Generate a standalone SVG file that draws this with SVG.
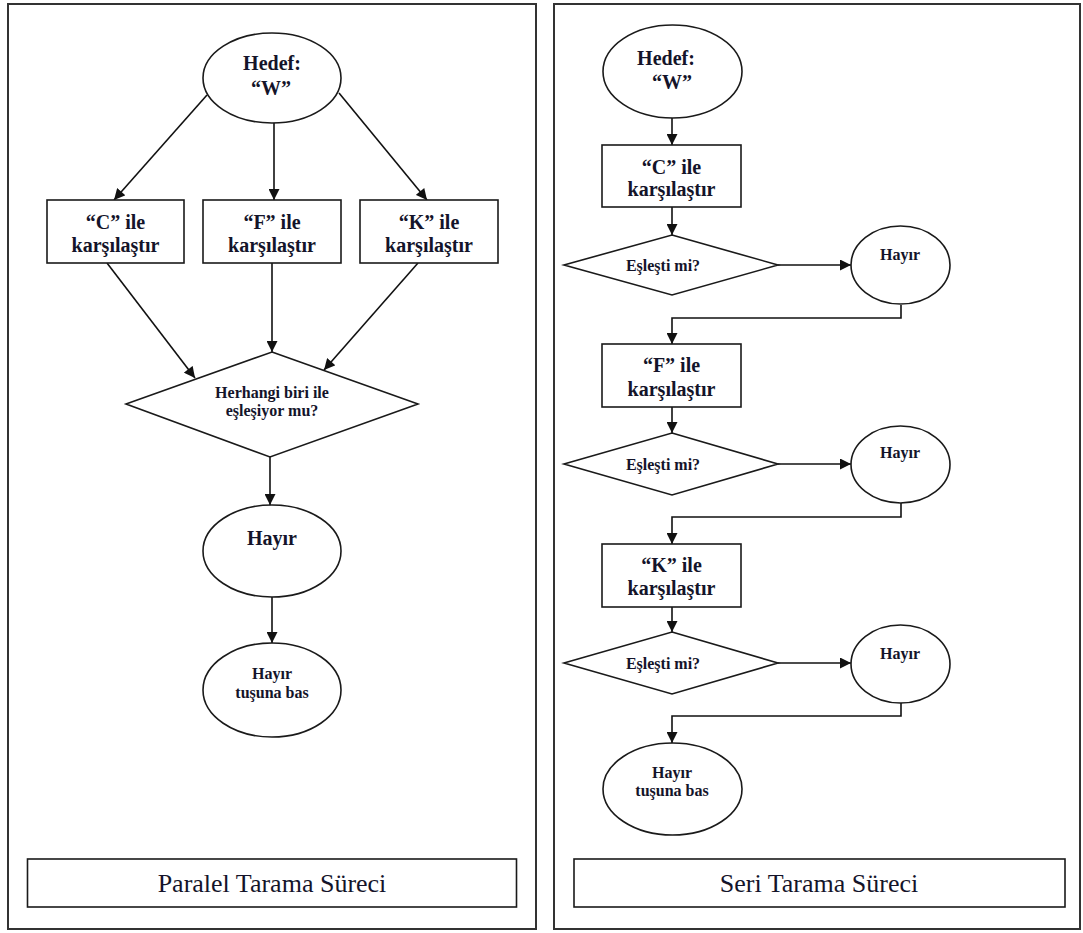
<svg xmlns="http://www.w3.org/2000/svg" width="1083" height="933" viewBox="0 0 1083 933">
<style>
.panel{fill:#fff;stroke:#333;stroke-width:2}
.shape{fill:#fff;stroke:#1a1a1a;stroke-width:1.6}
.ln{fill:none;stroke:#111;stroke-width:1.6}
.t{font-family:"Liberation Serif","Times New Roman",serif;fill:#14142a;text-anchor:middle;dominant-baseline:central}
.b20{font-size:20px;font-weight:bold}
.b16{font-size:16px;font-weight:bold}
.r26{font-size:26px}
</style>
<defs>
<marker id="ah" viewBox="0 0 10 10" refX="10" refY="5" markerWidth="12" markerHeight="11" markerUnits="userSpaceOnUse" orient="auto">
<path d="M0,0 L10,5 L0,10 z" fill="#111"/>
</marker>
</defs>
<rect width="1083" height="933" fill="#fff"/>

<g id="panel-left">
<rect class="panel" x="8" y="4" width="528" height="925"/>
</g>
<g id="panel-right">
<rect class="panel" x="554" y="4" width="526" height="925"/>
</g>

<g id="connectors">
<line class="ln" x1="207" y1="95" x2="114" y2="200" marker-end="url(#ah)"/>
<line class="ln" x1="274" y1="123" x2="274" y2="200" marker-end="url(#ah)"/>
<line class="ln" x1="339" y1="93" x2="427" y2="200" marker-end="url(#ah)"/>
<line class="ln" x1="107" y1="263" x2="195" y2="378" marker-end="url(#ah)"/>
<line class="ln" x1="272" y1="263" x2="272" y2="352" marker-end="url(#ah)"/>
<line class="ln" x1="418" y1="263" x2="324" y2="370" marker-end="url(#ah)"/>
<line class="ln" x1="270" y1="457" x2="270" y2="505" marker-end="url(#ah)"/>
<line class="ln" x1="272" y1="597" x2="272" y2="643" marker-end="url(#ah)"/>

<line class="ln" x1="672" y1="118" x2="672" y2="145" marker-end="url(#ah)"/>
<line class="ln" x1="672" y1="207" x2="672" y2="235" marker-end="url(#ah)"/>
<line class="ln" x1="778" y1="265" x2="851" y2="265" marker-end="url(#ah)"/>
<polyline class="ln" points="901,305 901,318 672,318 672,344" marker-end="url(#ah)"/>
<line class="ln" x1="672" y1="407" x2="672" y2="433" marker-end="url(#ah)"/>
<line class="ln" x1="778" y1="464" x2="851" y2="464" marker-end="url(#ah)"/>
<polyline class="ln" points="901,503 901,517 672,517 672,544" marker-end="url(#ah)"/>
<line class="ln" x1="672" y1="607" x2="672" y2="632" marker-end="url(#ah)"/>
<line class="ln" x1="778" y1="663" x2="851" y2="663" marker-end="url(#ah)"/>
<polyline class="ln" points="901,703 901,716 672,716 672,743" marker-end="url(#ah)"/>
</g>

<g id="p-hedef">
<ellipse class="shape" cx="272" cy="78" rx="69" ry="45"/>
<text class="t b20" x="272" y="63">Hedef:</text>
<text class="t b20" x="271" y="88">“W”</text>
</g>
<g id="p-c">
<rect class="shape" x="47" y="200" width="137" height="63"/>
<text class="t b20" x="115.5" y="222">“C” ile</text>
<text class="t b20" x="115.5" y="245">karşılaştır</text>
</g>
<g id="p-f">
<rect class="shape" x="203" y="200" width="138" height="63"/>
<text class="t b20" x="272" y="222">“F” ile</text>
<text class="t b20" x="272" y="245">karşılaştır</text>
</g>
<g id="p-k">
<rect class="shape" x="360" y="200" width="138" height="63"/>
<text class="t b20" x="429" y="222">“K” ile</text>
<text class="t b20" x="429" y="245">karşılaştır</text>
</g>
<g id="p-diamond">
<polygon class="shape" points="272,352 418,404 270,457 126,404"/>
<text class="t b16" x="272" y="392">Herhangi biri ile</text>
<text class="t b16" x="272" y="410">eşleşiyor mu?</text>
</g>
<g id="p-hayir">
<ellipse class="shape" cx="272" cy="551" rx="69" ry="46"/>
<text class="t b20" x="272" y="538">Hayır</text>
</g>
<g id="p-bas">
<ellipse class="shape" cx="272" cy="690" rx="69" ry="47"/>
<text class="t b16" x="272" y="673">Hayır</text>
<text class="t b16" x="272" y="692">tuşuna bas</text>
</g>
<g id="p-title">
<rect class="shape" x="27.5" y="859" width="489" height="48"/>
<text class="t r26" x="272" y="883">Paralel Tarama Süreci</text>
</g>

<g id="s-hedef">
<ellipse class="shape" cx="672.5" cy="71.5" rx="69.5" ry="46.5"/>
<text class="t b20" x="666" y="58">Hedef:</text>
<text class="t b20" x="672" y="82">“W”</text>
</g>
<g id="s-c">
<rect class="shape" x="602" y="145" width="139" height="62"/>
<text class="t b20" x="671.5" y="167">“C” ile</text>
<text class="t b20" x="671.5" y="189">karşılaştır</text>
</g>
<g id="s-d1">
<polygon class="shape" points="672,235 778,265 672,295 564,265"/>
<text class="t b16" x="663" y="265">Eşleşti mi?</text>
</g>
<g id="s-h1">
<ellipse class="shape" cx="900.5" cy="265" rx="49.5" ry="39"/>
<text class="t b16" x="900" y="254">Hayır</text>
</g>
<g id="s-f">
<rect class="shape" x="602" y="344" width="139" height="63"/>
<text class="t b20" x="671.5" y="365">“F” ile</text>
<text class="t b20" x="671.5" y="389">karşılaştır</text>
</g>
<g id="s-d2">
<polygon class="shape" points="672,433 778,464 672,495 564,464"/>
<text class="t b16" x="663" y="464">Eşleşti mi?</text>
</g>
<g id="s-h2">
<ellipse class="shape" cx="900.5" cy="464.5" rx="49.5" ry="38.5"/>
<text class="t b16" x="900" y="452">Hayır</text>
</g>
<g id="s-k">
<rect class="shape" x="602" y="544" width="139" height="63"/>
<text class="t b20" x="671.5" y="565">“K” ile</text>
<text class="t b20" x="671.5" y="588">karşılaştır</text>
</g>
<g id="s-d3">
<polygon class="shape" points="672,632 778,663 672,694 564,663"/>
<text class="t b16" x="663" y="663">Eşleşti mi?</text>
</g>
<g id="s-h3">
<ellipse class="shape" cx="900.5" cy="664" rx="49.5" ry="39"/>
<text class="t b16" x="900" y="653">Hayır</text>
</g>
<g id="s-bas">
<ellipse class="shape" cx="672.5" cy="789" rx="69.5" ry="46"/>
<text class="t b16" x="672" y="772">Hayır</text>
<text class="t b16" x="672" y="790">tuşuna bas</text>
</g>
<g id="s-title">
<rect class="shape" x="574" y="859" width="491" height="48"/>
<text class="t r26" x="819" y="883">Seri Tarama Süreci</text>
</g>
</svg>
